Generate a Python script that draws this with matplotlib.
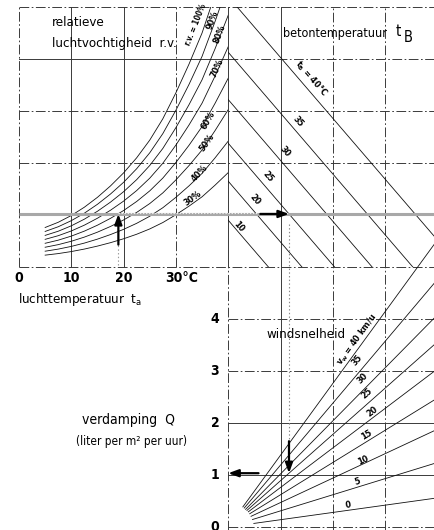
import numpy as np
import matplotlib
matplotlib.use('Agg')
import matplotlib.pyplot as plt
from matplotlib.patches import Rectangle

plt.rcParams['font.family'] = ['DejaVu Sans']
plt.rcParams['font.stretch'] = 'condensed'
plt.rcParams['mathtext.default'] = 'regular'
plt.rcParams['lines.scale_dashes'] = False

air_temp = [5, 7.5, 10, 12.5, 15, 17.5, 20, 22.5, 25, 27.5, 30, 32.5, 35, 37.5, 40, 42.5]
sat_press = [7.6, 8.6, 9.9, 11.5, 13.4, 15.6, 18.1, 21.0, 24.4, 28.5, 33.5, 39.0, 45.0, 52.5, 60.5, 70.0]
rh_levels = [100, 90, 80, 70, 60, 50, 40, 30]

# concrete temperature lines (start pressure on the 40 line, mm Hg)
concrete_temp = [10, 20, 25, 30, 35, 40]
concrete_press = [9.0, 16.5, 23.8, 32.2, 41.3, 52.0]
concrete_slope = 1.17

# wind lines: evaporation Q per grid cell of pressure difference
wind_speed = [0, 5, 10, 15, 20, 25, 30, 35, 40]
wind_slope = [0.14, 0.31, 0.47, 0.62, 0.76, 0.89, 1.02, 1.19, 1.38]

# worked example
ex_air_temp = 19
ex_vapour = 10.2
ex_concrete = 25
ex_wind = 25

q_ticks = [0, 1, 2, 3, 4]
t_ticks = [0, 10, 20, 30]

# pixel helpers (figure is 435 x 530 px)
XS, YS = 5.23, 5.2
def px(x, y):
    return (x - 19) / XS, (267 - y) / YS

fig = plt.figure(figsize=(4.35, 5.30), dpi=100)
ax = fig.add_axes([0, 0, 1, 1])
ax.set_xlim(-19 / XS, (435 - 19) / XS)
ax.set_ylim(-(530 - 267) / YS, 267 / YS)
ax.axis('off')
XR = (435 - 19) / XS
YB = -(530 - 267) / YS

gcol = '#3a3a3a'
solid = dict(color=gcol, lw=0.7)
dashd = dict(color=gcol, lw=0.7, dashes=(7, 1.8, 1.2, 1.8))

# grid, top left panel
ax.plot([0, 0], [0, 50], **dashd)
ax.plot([10, 10], [0, 50], **solid)
ax.plot([20, 20], [0, 50], **solid)
ax.plot([30, 30], [0, 50], **dashd)
ax.plot([40, 40], [0, 50], **solid)
ax.plot([40, 40], [YB, 0], **dashd)
for xv, st in [(50, solid), (60, dashd), (70, dashd)]:
    ax.plot([xv, xv], [YB, 50], **st)
ax.plot([0, XR], [50, 50], **dashd)
ax.plot([0, 40], [40, 40], **solid)
ax.plot([40, XR], [40, 40], **dashd)
for yv in [30, 20, 0]:
    ax.plot([0, XR], [yv, yv], **dashd)
for q, st in [(4, dashd), (3, dashd), (2, solid), (1, solid), (0, dashd)]:
    ax.plot([40, XR], [(q - 5) * 10, (q - 5) * 10], **st)

# relative humidity curves
clip_rh = Rectangle((0, 0), 40, 50, transform=ax.transData)
es = np.array(sat_press)
for rh in rh_levels:
    ln, = ax.plot(air_temp, es * rh / 100, color='#111', lw=0.6)
    ln.set_clip_path(clip_rh)

# concrete temperature lines
clip_tb = Rectangle((40, 0), 50, 50, transform=ax.transData)
xx = np.array([40, 90])
for tb, p0 in zip(concrete_temp, concrete_press):
    ln, = ax.plot(xx, p0 - concrete_slope * (xx - 40), color='#111', lw=0.6)
    ln.set_clip_path(clip_tb)

# wind lines
for i, (v, k) in enumerate(zip(wind_speed, wind_slope)):
    x0 = 40 + 4.9 - 2.1 * i / (len(wind_speed) - 1)
    xs = np.array([x0, XR])
    ax.plot(xs, k * (xs - 40) - 50, color='#111', lw=0.6)

# worked example
x_b = 40 + (concrete_press[concrete_temp.index(ex_concrete)] - ex_vapour) / concrete_slope
q_res = wind_slope[wind_speed.index(ex_wind)] * (x_b - 40) / 10
y_q = (q_res - 5) * 10
ax.plot([0, XR], [ex_vapour, ex_vapour], color='#a8a8a8', lw=2.2, solid_capstyle='butt')
ax.plot([ex_air_temp, x_b], [ex_vapour + 0.2, ex_vapour + 0.2], color='#eeeeee', lw=0.8, ls=(0, (1, 1.2)))
ax.plot([ex_air_temp, ex_air_temp], [0.3, 4.3], color='#999', lw=0.8, ls=':')
ax.plot([x_b, x_b], [ex_vapour - 2, -33.5], color='#888', lw=0.8, ls=':')
arr = dict(arrowstyle='-|>,head_length=0.6,head_width=0.22', color='black', lw=1.6, shrinkA=0, shrinkB=0)
ax.annotate('', xy=(ex_air_temp, ex_vapour), xytext=(ex_air_temp, 4.3), arrowprops=arr)
ax.annotate('', xy=(x_b, ex_vapour), xytext=(x_b - 5.5, ex_vapour), arrowprops=arr)
ax.annotate('', xy=(x_b, y_q), xytext=(x_b, -33.5), arrowprops=arr)
ax.annotate('', xy=(40, y_q), xytext=(45.8, y_q), arrowprops=arr)

# labels on curves
def disp_angle(slope):
    return np.degrees(np.arctan(slope * YS / XS))

small = dict(ha='center', va='center', rotation_mode='anchor', fontweight='bold')
rh_label_pos = [(196, 25), (213, 20), (220, 34), (217, 68), (208, 120), (207, 143), (200, 173), (193, 198)]
for rh, (lx, ly) in zip(rh_levels, rh_label_pos):
    x, y = px(lx, ly)
    slope = np.interp(x, air_temp, np.gradient(es, air_temp)) * rh / 100
    txt = 'r.v. = 100%' if rh == 100 else '%d%%' % rh
    ax.text(x, y, txt, rotation=disp_angle(slope), fontsize=5.6 if rh == 100 else 6.5, **small)

tb_label_pos = [(239, 227), (255, 200), (268, 177), (285, 152), (298, 122), (311, 78)]
for tb, (lx, ly) in zip(concrete_temp, tb_label_pos):
    x, y = px(lx, ly)
    txt = r't$_B$ = 40°C' if tb == 40 else str(tb)
    ax.text(x, y, txt, rotation=-disp_angle(concrete_slope), fontsize=6.5, **small)

w_label_pos = [(348, 505), (357, 482), (363, 460), (367, 435), (372, 412), (367, 393), (363, 378), (357, 360), (357, 340)]
for v, k, (lx, ly) in zip(wind_speed, wind_slope, w_label_pos):
    x, y = px(lx, ly)
    txt = r'v$_w$ = 40 km/u' if v == 40 else str(v)
    ax.text(x, y, txt, rotation=disp_angle(k), fontsize=6.5, **small)

# axis texts
big = dict(va='center')
for t in t_ticks:
    lab = '30°C' if t == 30 else str(t)
    ax.text(t + (1.1 if t == 30 else 0), px(0, 278)[1], lab, ha='center', fontsize=10,
            fontweight='bold', **big)
ax.text(*px(18, 300), r'luchttemperatuur  t$_a$', ha='left', fontsize=9.5, **big)
for q in q_ticks:
    ax.text(px(215, 0)[0], (q - 5) * 10, str(q), ha='center', fontsize=10, fontweight='bold', **big)
ax.text(*px(52, 23), 'relatieve', ha='left', fontsize=9.5, **big)
ax.text(*px(52, 43), 'luchtvochtigheid  r.v.', ha='left', fontsize=9.5, **big)
ax.text(*px(283, 33), 'betontemperatuur', ha='left', fontsize=9, **big)
ax.text(*px(396, 31), 't', ha='left', fontsize=11, **big)
ax.text(*px(404, 37), 'B', ha='left', fontsize=10.5, **big)
ax.text(*px(306, 335), 'windsnelheid', ha='center', fontsize=9.5, **big)
ax.text(*px(128, 420), 'verdamping  Q', ha='center', fontsize=10, **big)
ax.text(*px(132, 441), '(liter per m² per uur)', ha='center', fontsize=8.5, **big)

fig.savefig('out.png', dpi=100)
